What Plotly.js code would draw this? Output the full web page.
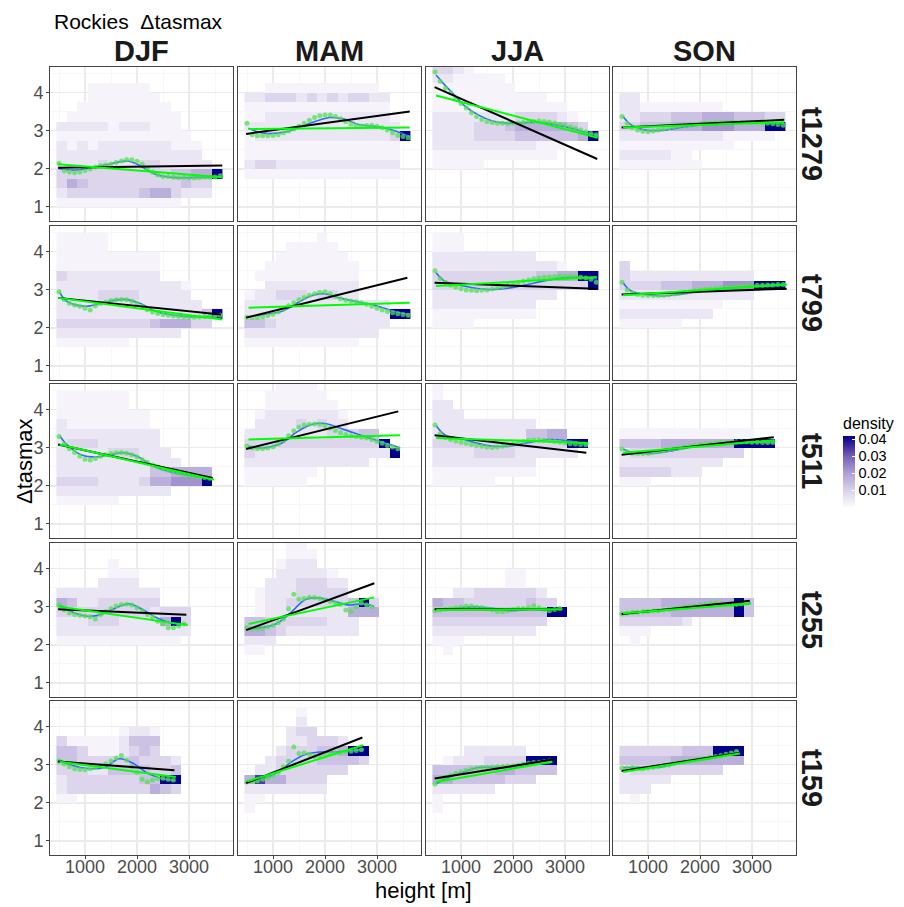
<!DOCTYPE html>
<html><head><meta charset="utf-8">
<script src="https://cdn.plot.ly/plotly-3.0.1.min.js"></script>
<style>html,body{margin:0;padding:0;background:#fff}#chart{width:904px;height:907px}</style>
</head><body><div id="chart"></div>
<script>
const seasons = ['DJF','MAM','JJA','SON'];
const runs = ['t1279','t799','t511','t255','t159'];
// heatmap bin centres (height [m], Δtasmax)
const xBins = [550,750,950,1150,1350,1550,1750,1950,2150,2350,2550,2750,2950,3150,3350,3550];
const yBins = [4.625,4.375,4.125,3.875,3.625,3.375,3.125,2.875,2.625,2.375,2.125,1.875,1.625,1.375,1.125];
// density value for each tile level digit (0 = no tile)
const densityLevels = [null,0.0015,0.005,0.009,0.013,0.017,0.022,0.028,0.034,0.042];
// heights of the binned means (green dots)
const heights = [500,600,700,800,900,1000,1100,1200,1300,1400,1500,1600,1700,1800,1900,2000,2100,2200,2300,2400,2500,2600,2700,2800,2900,3000,3100,3200,3300,3400,3500,3600];

// tile levels, one string per y bin (top to bottom), one digit per x bin
const tiles_t1279 = [
 ["","","000111111","0001111111","00111111111","011111111111","222221222111","1111111111111","21212222222111","22222222222222","222232223322222","3333333333344559","354333333333433","233333334553222","111111111111"],
 ["","","0011111111111","22333232323322","11111111111111","112222222222221","222222222222222","1222222222222239","111111111111111","111111111111111","233222222222222","111111111111111","","",""],
 ["3321","2211111","11111111","11111111111","1111111111111","22222222333321","222233345555543","2222333344444459","2222222222111","111111111111","11111","","","",""],
 ["","","","22","2211111111","2233344455544433","3344455566655599","222222222211111","11111111111","2222211","11111111","","","",""]
];
const tiles_t799 = [
 ["","11111","11111","1111111111","1111111111","3222222222","2222222222221","2222333322222","22222222222222","2222222222222249","3333333334555330","222222222222","1111111","",""],
 ["","00000001","000011111","0001111111","00111111111","01111111111","00222222222","12233323322","22222222222222","2222222222222299","44322222222222","2222222222222","11111111111","",""],
 ["","111","111","2222222222","2222222222221","3333333333445599","3333333333333339","222222222222","2222222222","1111111111","1111","","","",""],
 ["","","","","3","3222222222222","3333444555666999","2222222222222","1111111111","222222222","111111","","","",""]
];
const tiles_t511 = [
 ["","1111111","1111111","111111111","211111111","2222222222","2333222222","22222333222","222222222222","222222222445555","3333222235566690","22222222222","111111","",""],
 ["0001111","00111111","001111111","0122222221","0222232322","2222222233344","33333333333339","322222222222229","222222222222","1111111","111111","","","",""],
 ["1","1","22","222","2222222222","2222222224455","333333333333399","22223333222222","2222222222","1111111111","111111","","","",""],
 ["","","","","","1111111111111","444455555559999","233333333333","2222222222","33333222","111","","","",""]
];
const tiles_t255 = [
 ["","","000001","00000111","00002222","2222222222","5422333333","3333333332333","2223332222593","2222222222222","111111111111","","","",""],
 ["000011","0000111","0001222","000222221","0022233322","0122233333","0122333333493","0122222222555","44333333222","55432222222","222","11","","",""],
 ["","","","000000011","000000011","00223333332","544333333433","4444444444499","33333333333","2222222222","111","01","","",""],
 ["","","","","","","4444555555594","4444455555594","3333332","111","01","","","",""]
];
const tiles_t159 = [
 ["","","","0000001221","3111112444","4431112343","443333343332","333224444334","233333334499","233333333543","11","","","",""],
 ["","000001","000002","0000233","0000223332","000233344599","002333344443","0223333333","58553333","22222222","11","1","","",""],
 ["","","","","","0002222220","012223333999","444444554444","5544444333","222222","1","1","","",""],
 ["","","","","","333333444999","444445555555","2333333333","22222","222","01","","","",""]
];

// binned means (green dots), starting at 500 m every 100 m
const dots_t1279 = [
 [2.15,1.95,1.92,1.9,1.92,1.96,2.0,2.05,2.08,2.1,2.13,2.17,2.21,2.24,2.24,2.2,2.12,2.02,1.92,1.84,1.8,1.8,1.78,1.77,1.78,1.77,1.76,1.77,1.78,1.78,1.79,1.82],
 [3.2,2.9,2.87,2.87,2.87,2.88,2.9,2.95,3.0,3.05,3.12,3.2,3.28,3.35,3.4,3.42,3.42,3.38,3.32,3.25,3.18,3.14,3.13,3.14,3.15,3.12,3.08,3.02,2.95,2.88,2.85,2.82],
 [4.55,4.3,4.12,4.0,3.85,3.72,3.6,3.48,3.38,3.3,3.25,3.22,3.2,3.2,3.19,3.2,3.21,3.22,3.24,3.25,3.26,3.25,3.23,3.2,3.17,3.14,3.1,3.06,3.02,2.97,2.93,2.9],
 [3.38,3.2,3.08,3.02,2.99,2.98,3.0,3.02,3.05,3.08,3.1,3.12,3.14,3.16,3.17,3.19,3.2,3.2,3.21,3.22,3.22,3.23,3.23,3.23,3.23,3.22,3.22,3.21,3.2,3.19,3.17,3.15]
];
const dots_t799 = [
 [2.95,2.75,2.65,2.6,2.57,2.52,2.47,2.58,2.64,2.68,2.72,2.74,2.75,2.74,2.7,2.64,2.56,2.48,2.42,2.38,2.35,2.33,2.31,2.3,2.29,2.28,2.28,2.29,2.3,2.31,2.32,2.33],
 [2.28,2.27,2.27,2.29,2.32,2.36,2.42,2.5,2.58,2.66,2.74,2.8,2.86,2.9,2.93,2.95,2.9,2.83,2.77,2.73,2.71,2.69,2.66,2.62,2.57,2.52,2.47,2.43,2.4,2.37,2.35,2.33],
 [3.5,3.3,3.2,3.12,3.07,3.03,3.0,2.99,2.98,2.99,3.0,3.02,3.05,3.08,3.12,3.15,3.19,3.23,3.26,3.29,3.31,3.33,3.34,3.35,3.36,3.36,3.36,3.35,3.33,3.31,3.28,3.2],
 [3.2,3.0,2.92,2.88,2.86,2.85,2.85,2.85,2.86,2.87,2.89,2.91,2.93,2.95,2.97,2.99,3.01,3.02,3.04,3.05,3.06,3.07,3.08,3.09,3.1,3.11,3.12,3.12,3.13,3.13,3.14,3.14]
];
const dots_t511 = [
 [3.3,3.1,2.98,2.88,2.78,2.7,2.68,2.72,2.78,2.82,2.85,2.87,2.88,2.86,2.82,2.76,2.69,2.62,2.55,2.5,2.45,2.41,2.37,2.33,2.3,2.28,2.26,2.24,2.22,2.2],
 [3.05,3.0,2.98,2.98,3.0,3.03,3.1,3.2,3.32,3.45,3.55,3.6,3.62,3.63,3.62,3.58,3.52,3.46,3.4,3.35,3.32,3.3,3.28,3.26,3.22,3.17,3.12,3.06,3.02,2.98],
 [3.6,3.38,3.28,3.22,3.18,3.15,3.12,3.09,3.06,3.04,3.02,3.01,3.02,3.04,3.07,3.1,3.14,3.17,3.2,3.21,3.21,3.2,3.19,3.17,3.15,3.13,3.11,3.1,3.09,3.08],
 [2.97,2.9,2.86,2.85,2.85,2.86,2.88,2.9,2.92,2.95,2.98,3.0,3.02,3.05,3.07,3.09,3.1,3.12,3.13,3.14,3.15,3.15,3.16,3.16,3.16,3.15,3.15,3.14,3.14,3.14]
];
const dots_t255 = [
 [3.05,2.92,2.84,2.8,2.78,2.76,2.74,2.68,2.8,2.88,2.96,3.02,3.06,3.07,3.05,2.98,2.9,2.8,2.72,2.62,2.55,2.45,2.45,2.5,2.55],
 [2.45,2.42,2.42,2.44,2.47,2.52,2.58,2.68,2.95,3.33,3.2,3.22,3.25,3.25,3.22,3.18,3.14,3.1,3.07,2.92,2.88,3.0,3.1,3.05,3.0],
 [2.9,2.92,2.94,2.96,2.98,3.0,3.02,3.02,3.0,2.98,2.95,2.92,2.88,2.87,2.9,2.93,2.95,2.96,2.98,3.03,2.98,2.93,2.9,2.93,2.96],
 [2.82,2.84,2.85,2.86,2.87,2.88,2.89,2.9,2.92,2.93,2.95,2.97,2.99,3.01,3.03,3.05,3.07,3.09,3.1,3.08,3.06,3.05,3.07,3.09,3.1]
];
const dots_t159 = [
 [3.1,3.02,2.95,2.9,2.88,2.87,2.9,2.94,2.98,3.03,3.1,3.18,3.25,3.12,2.95,2.8,2.62,2.55,2.6,2.64,2.65,2.62,2.6],
 [2.55,2.56,2.58,2.62,2.66,2.72,2.8,2.95,3.1,3.47,3.3,3.32,3.28,3.22,3.25,3.28,3.3,3.32,3.33,3.35,3.36,3.38,3.4],
 [2.5,2.62,2.68,2.73,2.78,2.82,2.86,2.89,2.91,2.93,2.94,2.94,2.95,2.96,2.97,2.98,3.0,3.02,3.04,3.06,3.07,3.08,3.1],
 [2.92,2.92,2.93,2.92,2.9,2.92,2.94,2.96,2.98,3.0,3.03,3.06,3.08,3.1,3.12,3.15,3.17,3.2,3.22,3.25,3.28,3.31,3.35]
];

// smooth (blue) curve: [height, Δtasmax]
const smooth_t1279 = [
 [[483,2.01],[833,1.97],[1385,2.1],[1845,2.2],[2397,1.84],[2765,1.77],[3225,1.78],[3639,1.79]],
 [[529,3.07],[805,2.94],[1265,2.98],[1633,3.16],[2093,3.35],[2369,3.31],[2645,3.17],[3105,3.09],[3473,2.94],[3630,2.85]],
 [[521,4.47],[686,4.21],[870,3.95],[1054,3.68],[1330,3.42],[1606,3.26],[1974,3.2],[2434,3.23],[2802,3.17],[3170,3.05],[3630,2.87]],
 [[520,3.38],[677,3.16],[953,3.02],[1321,3.02],[1689,3.1],[2333,3.2],[3069,3.23],[3621,3.2]]
];
const smooth_t799 = [
 [[511,2.94],[649,2.7],[1017,2.57],[1385,2.68],[1753,2.75],[2029,2.66],[2397,2.42],[2857,2.31],[3317,2.29],[3639,2.33]],
 [[529,2.29],[805,2.35],[1173,2.44],[1449,2.64],[1725,2.84],[2001,2.9],[2277,2.79],[2645,2.68],[3013,2.57],[3381,2.42],[3630,2.35]],
 [[521,3.45],[686,3.23],[1054,3.1],[1514,3.01],[1974,3.06],[2434,3.19],[2802,3.29],[3170,3.34],[3611,3.29]],
 [[520,3.19],[677,2.97],[953,2.88],[1229,2.84],[1597,2.88],[2149,2.99],[2701,3.06],[3253,3.12],[3667,3.14]]
];
const smooth_t511 = [
 [[511,3.32],[649,3.09],[925,2.82],[1201,2.76],[1477,2.82],[1753,2.87],[2029,2.76],[2305,2.53],[2673,2.36],[3041,2.27],[3455,2.21]],
 [[529,3.04],[805,3.0],[1173,3.13],[1449,3.41],[1725,3.61],[2001,3.64],[2369,3.48],[2737,3.31],[3105,3.15],[3445,3.0]],
 [[521,3.59],[686,3.35],[1054,3.22],[1514,3.06],[1882,3.04],[2250,3.13],[2710,3.22],[3170,3.17],[3446,3.09]],
 [[520,2.97],[677,2.89],[1045,2.85],[1413,2.91],[1873,3.04],[2333,3.11],[2793,3.15],[3437,3.14]]
];
const smooth_t255 = [
 [[511,3.05],[741,2.87],[1017,2.76],[1293,2.79],[1569,2.96],[1845,3.08],[2121,2.92],[2397,2.7],[2673,2.57],[2949,2.55]],
 [[529,2.43],[805,2.46],[1081,2.57],[1357,2.87],[1633,3.2],[1909,3.23],[2185,3.14],[2461,3.05],[2737,3.08],[2949,3.01]],
 [[521,2.9],[870,2.96],[1238,3.0],[1606,2.96],[1974,2.9],[2342,2.94],[2710,2.92],[2940,2.96]],
 [[520,2.83],[953,2.87],[1413,2.92],[1873,3.0],[2333,3.08],[2701,3.05],[2977,3.1]]
];
const smooth_t159 = [
 [[511,3.12],[741,2.99],[1109,2.9],[1385,2.94],[1661,3.16],[1937,3.03],[2213,2.77],[2489,2.64],[2719,2.59]],
 [[529,2.55],[805,2.64],[1081,2.79],[1357,3.08],[1633,3.28],[1909,3.34],[2185,3.34],[2461,3.37],[2737,3.4]],
 [[521,2.5],[778,2.68],[1054,2.81],[1330,2.93],[1698,2.93],[2066,2.94],[2434,3.03],[2756,3.08]],
 [[520,2.93],[861,2.93],[1229,2.94],[1597,3.05],[1965,3.12],[2333,3.21],[2746,3.36]]
];

// linear fits: [x0, y0, x1, y1]
const fitBlack_t1279 = [[483,2.03,3640,2.09],[483,2.92,3630,3.51],[493,4.15,3620,2.26],[493,3.09,3620,3.29]];
const fitGreen_t1279 = [[483,2.12,3640,1.78],[529,3.05,3630,3.09],[520,3.93,3630,2.82],[520,3.09,3620,3.23]];
const fitBlack_t799 = [[483,2.79,3611,2.35],[483,2.27,3584,3.32],[493,3.19,3593,3.03],[493,2.88,3667,3.03]];
const fitGreen_t799 = [[483,2.79,3639,2.22],[529,2.53,3630,2.66],[521,3.1,3611,3.34],[520,2.86,3667,3.14]];
const fitBlack_t511 = [[483,3.09,3455,2.21],[483,2.97,3409,3.96],[493,3.33,3410,2.87],[493,2.82,3420,3.28]];
const fitGreen_t511 = [[511,3.09,3480,2.16],[529,3.22,3445,3.33],[521,3.26,3446,3.13],[520,2.87,3437,3.2]];
const fitBlack_t255 = [[483,2.94,2949,2.79],[483,2.39,2949,3.62],[493,2.94,2950,2.94],[493,2.81,2958,3.16]];
const fitGreen_t255 = [[483,3.01,2977,2.52],[529,2.55,2949,3.25],[521,2.92,2950,2.94],[520,2.83,2977,3.08]];
const fitBlack_t159 = [[483,3.09,2719,2.86],[483,2.52,2719,3.72],[493,2.64,2766,3.14],[493,2.84,2746,3.31]];
const fitGreen_t159 = [[511,3.08,2746,2.68],[511,2.57,2737,3.52],[521,2.55,2756,3.08],[520,2.81,2766,3.3]];

const tilesByRun = [tiles_t1279,tiles_t799,tiles_t511,tiles_t255,tiles_t159];
const dotsByRun = [dots_t1279,dots_t799,dots_t511,dots_t255,dots_t159];
const smoothByRun = [smooth_t1279,smooth_t799,smooth_t511,smooth_t255,smooth_t159];
const blackByRun = [fitBlack_t1279,fitBlack_t799,fitBlack_t511,fitBlack_t255,fitBlack_t159];
const greenByRun = [fitGreen_t1279,fitGreen_t799,fitGreen_t511,fitGreen_t255,fitGreen_t159];

// ---- layout geometry ----
const W = 904, H = 907;
const colLeft = [50,238,426,613], panelW = 183;
const rowTop = [67,226,384,543,701], panelH = 154;
const FONT = 'Liberation Sans, Arial, Helvetica, sans-serif';

const traces = [];
const layout = {
  width: W, height: H, margin: {l:0,r:0,t:0,b:0},
  paper_bgcolor: '#fff', plot_bgcolor: '#fff', showlegend: false,
  font: {family: FONT, color: '#000'},
  coloraxis: {
    cmin: 0, cmax: 0.042,
    colorscale: [[0,'#fbfafd'],[0.24,'#d8d1ea'],[0.48,'#ad9fd4'],[0.71,'#7561b9'],[0.88,'#35229a'],[1,'#00008b']],
    colorbar: {
      x: 843/W, xanchor: 'left', y: 1-507/H, yanchor: 'bottom',
      len: 93, lenmode: 'pixels', thickness: 12, thicknessmode: 'pixels',
      outlinewidth: 0, xpad: 0, ypad: 0,
      tickvals: [0.01,0.02,0.03,0.04], ticktext: ['0.01','0.02','0.03','0.04'],
      ticks: 'inside', tickcolor: '#ffffff', ticklen: 3, tickwidth: 1,
      tickfont: {size: 14.5, family: FONT, color: '#000'},
      title: {text: 'density', side: 'top', font: {size: 16, family: FONT, color: '#000'}}
    }
  },
  annotations: []
};

for (let r = 0; r < runs.length; r++) {
  for (let c = 0; c < seasons.length; c++) {
    const i = r*4 + c;
    const sfx = i === 0 ? '' : String(i+1);
    const xa = 'x'+sfx, ya = 'y'+sfx;
    // heatmap tiles
    const z = tilesByRun[r][c].map(row => xBins.map((_, k) => {
      const ch = row.charAt(k);
      return ch === '' ? null : densityLevels[+ch];
    }));
    traces.push({type:'heatmap', x:xBins, y:yBins, z:z, coloraxis:'coloraxis',
      xaxis:xa, yaxis:ya, hoverinfo:'skip', zsmooth:false});
    // smooth curve
    const sm = smoothByRun[r][c];
    traces.push({type:'scatter', mode:'lines', x:sm.map(p=>p[0]), y:sm.map(p=>p[1]),
      line:{color:'#3366ff', width:1.6, shape:'spline', smoothing:1},
      xaxis:xa, yaxis:ya, hoverinfo:'skip'});
    // binned means
    const dv = dotsByRun[r][c];
    traces.push({type:'scatter', mode:'markers', x:heights.slice(0, dv.length), y:dv,
      marker:{color:'rgba(80,225,80,0.75)', size:5},
      xaxis:xa, yaxis:ya, hoverinfo:'skip'});
    // linear fits
    const b = blackByRun[r][c], g = greenByRun[r][c];
    traces.push({type:'scatter', mode:'lines', x:[b[0],b[2]], y:[b[1],b[3]],
      line:{color:'#000', width:2}, xaxis:xa, yaxis:ya, hoverinfo:'skip'});
    traces.push({type:'scatter', mode:'lines', x:[g[0],g[2]], y:[g[1],g[3]],
      line:{color:'#00ff00', width:2}, xaxis:xa, yaxis:ya, hoverinfo:'skip'});

    const bottomRow = r === runs.length-1, leftCol = c === 0;
    layout['xaxis'+sfx] = {
      domain: [colLeft[c]/W, (colLeft[c]+panelW)/W], anchor: ya,
      range: [327, 3846], tickvals: [1000,2000,3000], ticktext: ['1000','2000','3000'],
      showgrid: true, gridcolor: '#ebebeb', gridwidth: 1.2,
      minor: {tickvals: [500,1500,2500,3500], showgrid: true, gridcolor: '#f5f5f5', gridwidth: 0.8},
      showline: true, mirror: true, linecolor: '#444', linewidth: 1, zeroline: false,
      ticks: bottomRow ? 'outside' : '', ticklen: 3, tickcolor: '#444',
      ticklabelstandoff: -8,
      showticklabels: bottomRow, tickfont: {size: 18, family: FONT, color: '#4d4d4d'},
      fixedrange: true
    };
    layout['yaxis'+sfx] = {
      domain: [1-(rowTop[r]+panelH)/H, 1-rowTop[r]/H], anchor: xa,
      range: [0.63, 4.68], tickvals: [1,2,3,4], ticktext: ['1','2','3','4'],
      showgrid: true, gridcolor: '#ebebeb', gridwidth: 1.2,
      minor: {tickvals: [1.5,2.5,3.5,4.5], showgrid: true, gridcolor: '#f5f5f5', gridwidth: 0.8},
      showline: true, mirror: true, linecolor: '#444', linewidth: 1, zeroline: false,
      ticks: leftCol ? 'outside' : '', ticklen: 3, tickcolor: '#444',
      ticklabelstandoff: -1,
      showticklabels: leftCol, tickfont: {size: 18, family: FONT, color: '#4d4d4d'},
      fixedrange: true
    };
  }
}

// strip labels
seasons.forEach((s, c) => layout.annotations.push({
  text: '<b>'+s+'</b>', xref:'paper', yref:'paper', showarrow:false,
  x: (colLeft[c]+panelW/2)/W, y: 1-51/H, xanchor:'center', yanchor:'middle',
  font: {size: 29, family: FONT, color: '#1a1a1a'}
}));
runs.forEach((t, r) => layout.annotations.push({
  text: '<b>'+t+'</b>', xref:'paper', yref:'paper', showarrow:false, textangle: 90,
  x: 812/W, y: 1-(rowTop[r]+panelH/2)/H, xanchor:'center', yanchor:'middle',
  font: {size: 29, family: FONT, color: '#1a1a1a'}
}));
// titles
layout.annotations.push({text:'Rockies\u00a0\u00a0Δtasmax', xref:'paper', yref:'paper', showarrow:false,
  x: 52/W, y: 1-22/H, xanchor:'left', yanchor:'middle', font:{size:21, family:FONT, color:'#000'}});
layout.annotations.push({text:'Δtasmax', xref:'paper', yref:'paper', showarrow:false, textangle:-90,
  x: 24/W, y: 1-461/H, xanchor:'center', yanchor:'middle', font:{size:22, family:FONT, color:'#000'}});
layout.annotations.push({text:'height [m]', xref:'paper', yref:'paper', showarrow:false,
  x: 423/W, y: 1-890/H, xanchor:'center', yanchor:'middle', font:{size:22, family:FONT, color:'#000'}});

Plotly.newPlot('chart', traces, layout, {staticPlot: true, displayModeBar: false});
</script>
</body></html>
